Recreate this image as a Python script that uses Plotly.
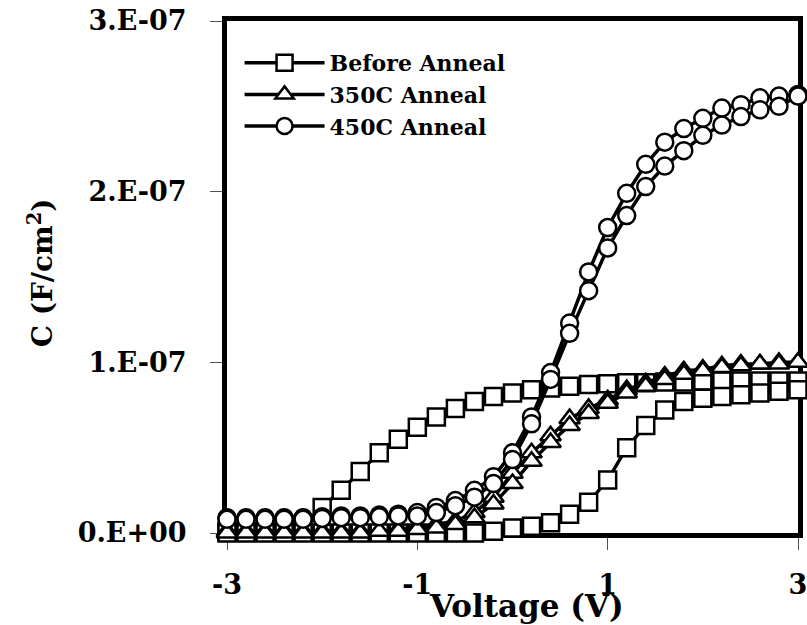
import plotly.graph_objects as go

# Voltage sweep (V): forward -3 -> 3
voltage = [-3.0, -2.8, -2.6, -2.4, -2.2, -2.0, -1.8, -1.6, -1.4, -1.2, -1.0,
           -0.8, -0.6, -0.4, -0.2, 0.0, 0.2, 0.4, 0.6, 0.8, 1.0,
           1.2, 1.4, 1.6, 1.8, 2.0, 2.2, 2.4, 2.6, 2.8, 3.0]

# Capacitance in units of 1e-7 F/cm^2
before_fwd = [0.01, 0.01, 0.01, 0.02, 0.05, 0.15, 0.25, 0.36, 0.47, 0.55, 0.62,
              0.68, 0.73, 0.77, 0.80, 0.82, 0.84, 0.85, 0.86, 0.87, 0.875,
              0.88, 0.88, 0.885, 0.885, 0.89, 0.89, 0.89, 0.89, 0.89, 0.89]
before_rev = [0.0, 0.0, 0.0, 0.0, 0.0, 0.0, 0.0, 0.0, 0.0, 0.0, 0.0,
              0.0, 0.0, 0.0, 0.01, 0.03, 0.04, 0.06, 0.11, 0.18, 0.31,
              0.50, 0.63, 0.72, 0.77, 0.79, 0.80, 0.81, 0.82, 0.83, 0.84]

a350_fwd = [0.01, 0.01, 0.01, 0.01, 0.01, 0.01, 0.01, 0.01, 0.01, 0.02, 0.03,
            0.05, 0.07, 0.12, 0.21, 0.35, 0.47, 0.57, 0.67, 0.73, 0.78,
            0.84, 0.88, 0.92, 0.95, 0.96, 0.98, 0.99, 0.99, 1.00, 1.00]
a350_rev = [0.0, 0.0, 0.0, 0.0, 0.0, 0.0, 0.0, 0.0, 0.01, 0.01, 0.02,
            0.03, 0.05, 0.09, 0.17, 0.29, 0.42, 0.53, 0.63, 0.70, 0.76,
            0.82, 0.86, 0.90, 0.93, 0.95, 0.97, 0.98, 0.99, 0.99, 1.00]

a450_fwd = [0.09, 0.09, 0.09, 0.09, 0.09, 0.095, 0.10, 0.10, 0.105, 0.11, 0.12,
            0.15, 0.19, 0.25, 0.33, 0.47, 0.68, 0.94, 1.23, 1.53, 1.79,
            1.99, 2.16, 2.29, 2.37, 2.43, 2.49, 2.51, 2.55, 2.56, 2.57]
a450_rev = [0.08, 0.08, 0.08, 0.08, 0.08, 0.085, 0.09, 0.09, 0.095, 0.10, 0.10,
            0.12, 0.16, 0.21, 0.29, 0.43, 0.64, 0.90, 1.17, 1.42, 1.67,
            1.86, 2.03, 2.15, 2.24, 2.33, 2.39, 2.44, 2.48, 2.50, 2.56]

series_names = ["Before Anneal", "350C Anneal", "450C Anneal"]
series_symbols = ["square", "triangle-up", "circle"]

x_tickvals = [-3, -1, 1, 3]
x_ticktext = ["-3", "-1", "1", "3"]
y_tickvals = [0, 1e-7, 2e-7, 3e-7]
y_ticktext = ["0.E+00", "1.E-07", "2.E-07", "3.E-07"]

FONT = "DejaVu Serif"

def loop(fwd, rev):
    xs = voltage + voltage[::-1]
    ys = [v * 1e-7 for v in fwd] + [v * 1e-7 for v in rev[::-1]]
    return xs, ys

fig = go.Figure()
for name, sym, (f, r) in zip(series_names, series_symbols,
                             [(before_fwd, before_rev), (a350_fwd, a350_rev), (a450_fwd, a450_rev)]):
    xs, ys = loop(f, r)
    fig.add_trace(go.Scatter(
        x=xs, y=ys, name=name, mode="lines+markers",
        line=dict(color="black", width=3.5),
        marker=dict(symbol=sym, size=17 if sym != "triangle-up" else 18,
                    color="white", line=dict(color="black", width=2.5)),
        cliponaxis=False,
    ))

axis_common = dict(
    showline=True, linecolor="black", linewidth=5, mirror=True,
    ticks="outside", ticklen=12, tickwidth=1, tickcolor="#555",
    showgrid=False, zeroline=False, layer="below traces", automargin=False,
    ticklabeloverflow="allow",
    tickfont=dict(family=FONT, size=27, color="black", weight="bold"),
)

fig.update_xaxes(range=[-3, 3], tickvals=x_tickvals, ticktext=x_ticktext,
                 ticklabelstandoff=12, **axis_common)
fig.update_yaxes(range=[0, 3e-7], tickvals=y_tickvals, ticktext=y_ticktext,
                 ticklabelstandoff=18, **axis_common)

fig.update_layout(
    width=807, height=625,
    margin=dict(l=227, r=9, t=21, b=92, autoexpand=False),
    plot_bgcolor="white", paper_bgcolor="white",
    showlegend=True,
    legend=dict(x=0.022, y=0.959, xanchor="left", yanchor="top",
                bgcolor="rgba(0,0,0,0)", borderwidth=0, itemwidth=80,
                font=dict(family=FONT, size=22, color="black", weight="bold"),
                tracegroupgap=0),
    annotations=[
        dict(text="Voltage (V)", xref="paper", yref="paper", x=0.525, y=-0.142,
             xanchor="center", yanchor="middle", showarrow=False,
             font=dict(family=FONT, size=31, color="black", weight="bold")),
        dict(text="C (F/cm<sup>2</sup>)", xref="paper", yref="paper", x=-0.325, y=0.508,
             xanchor="center", yanchor="middle", showarrow=False, textangle=-90,
             font=dict(family=FONT, size=28, color="black", weight="bold")),
    ],
)

fig.write_html("out.html")
